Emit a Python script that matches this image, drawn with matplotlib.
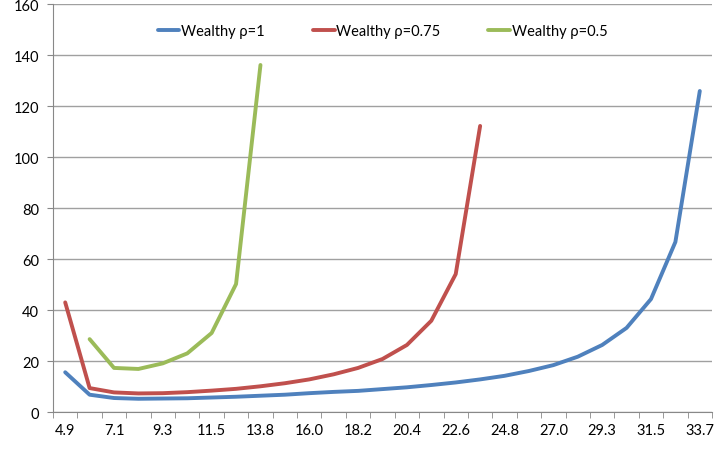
import numpy as np
import matplotlib
matplotlib.use("Agg")
import matplotlib.pyplot as plt

# category labels on the x axis (every category, only every other one is labelled)
categories = ["4.9", "6.0", "7.1", "8.2", "9.3", "10.4", "11.5", "12.7", "13.8",
              "14.9", "16.0", "17.1", "18.2", "19.3", "20.4", "21.5", "22.6",
              "23.7", "24.8", "25.9", "27.0", "28.2", "29.3", "30.4", "31.5",
              "32.6", "33.7"]

# values
rho_1 = [15.7, 6.9, 5.6, 5.3, 5.4, 5.5, 5.8, 6.1, 6.5, 6.9, 7.5, 8.0, 8.4,
         9.1, 9.8, 10.7, 11.7, 12.9, 14.3, 16.2, 18.5, 21.8, 26.4, 33.1,
         44.4, 66.8, 126.0]
rho_075 = [43.1, 9.5, 7.8, 7.4, 7.5, 7.9, 8.5, 9.2, 10.2, 11.4, 12.9, 14.9,
           17.4, 20.9, 26.4, 35.9, 54.2, 112.3]
rho_05 = [None, 28.7, 17.4, 17.0, 19.2, 23.1, 31.1, 50.3, 136.2]

series_names = ["Wealthy ρ=1", "Wealthy ρ=0.75", "Wealthy ρ=0.5"]
colors = ["#4F81BD", "#C0504D", "#9BBB59"]

plt.rcParams['font.family'] = ['Lato', 'DejaVu Sans']

fig = plt.figure(figsize=(7.15, 4.52), dpi=100)
ax = fig.add_axes([53 / 715, 38.7 / 452, 659 / 715, 408 / 452])

x = np.arange(len(categories))
for vals, name, c in zip([rho_1, rho_075, rho_05], series_names, colors):
    v = np.array([np.nan if y is None else y for y in vals], dtype=float)
    ax.plot(x[:len(v)], v, color=c, linewidth=2.8, label=name,
            solid_capstyle='round', solid_joinstyle='round')

ax.set_xlim(-0.5, len(categories) - 0.5)
ax.set_ylim(0, 160)
ax.set_yticks(np.arange(0, 161, 20))

ax.set_xticks(x[::2])
ax.set_xticklabels(categories[::2])
ax.set_xticks(np.arange(-0.5, len(categories), 1), minor=True)
ax.tick_params(axis='x', which='major', length=0, pad=8, labelsize=10.5)
ax.tick_params(axis='x', which='minor', length=4, color='#888888')
ax.tick_params(axis='y', length=4, color='#888888', labelsize=10.5, pad=6)

ax.grid(axis='y', color='#A0A0A0', linewidth=1)
ax.set_axisbelow(True)
for s in ['top', 'right']:
    ax.spines[s].set_visible(False)
for s in ['left', 'bottom']:
    ax.spines[s].set_color('#888888')

ax.legend(loc='center', bbox_to_anchor=(0.5, 0.934), ncol=3, frameon=False,
          fontsize=10.5, handlelength=1.5, handletextpad=0.1,
          columnspacing=3.3)

fig.savefig("out.png", dpi=100)
